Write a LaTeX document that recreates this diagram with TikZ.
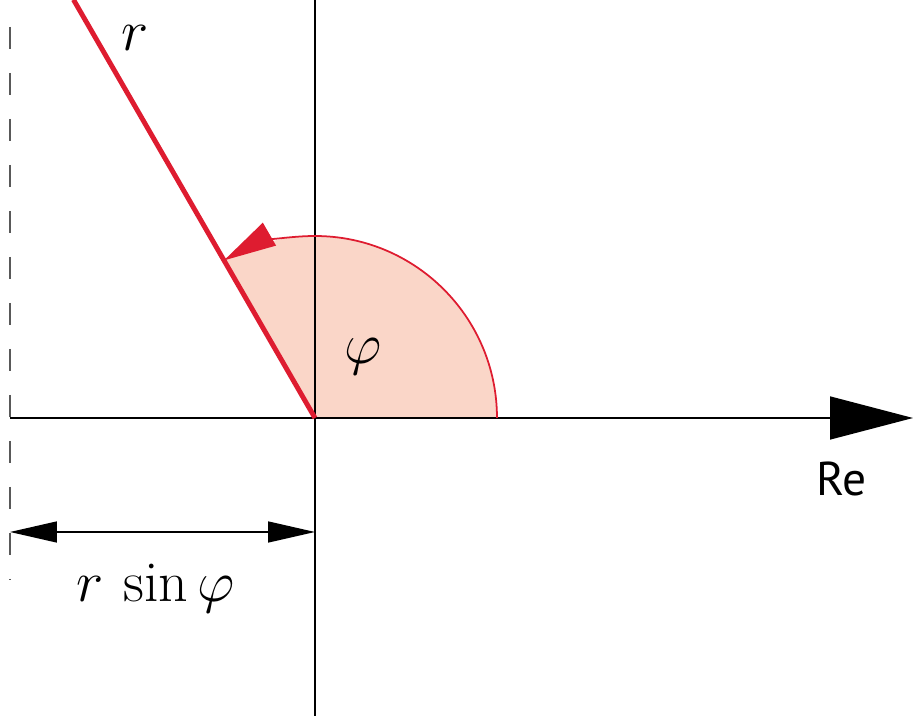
\RequirePackage{fix-cm}
\documentclass[tikz,border=0pt]{standalone}
\usepackage{fontspec}
\newfontfamily\resans{PT Sans}
\usetikzlibrary{arrows.meta}

\definecolor{vecred}{RGB}{222,28,48}
\definecolor{sectorfill}{RGB}{250,214,200}

\tikzset{
  axisline/.style={line width=0.9pt,black},
  bigtip/.style={-{Triangle[length=1.66cm,width=0.86cm]}},
  dimtip/.style={{Triangle[length=0.94cm,width=0.42cm]}-{Triangle[length=0.94cm,width=0.42cm]}},
  mathlabel/.style={outer sep=0pt,inner sep=0pt,font=\fontsize{33}{38}\selectfont}
}

\begin{document}
\begin{tikzpicture}[x=0.02cm,y=0.02cm]

\useasboundingbox (-315,-298) rectangle (598,418);

\coordinate (O) at (0,0);
\coordinate (reL) at (-305,0);
\coordinate (reR) at (598,0);
\coordinate (imT) at (0,418);
\coordinate (imB) at (0,-298);
\coordinate (rEnd) at (120:483);
\coordinate (dashT) at (-305,391);
\coordinate (dashB) at (-305,-162);
\coordinate (dimL) at (-305,-114);
\coordinate (dimR) at (0,-114);

% sector
\fill [sectorfill] (O) -- (182,0) arc (0:120:182) -- cycle;

% axes
\draw [axisline,bigtip] (reL) -- (reR);
\draw [axisline] (imB) -- (imT);
\draw [line width=0.7pt,black!65,dash pattern=on 0.44cm off 0.48cm] (dashT) -- (dashB);

% vector r
\draw [line width=2.8pt,vecred] (O) -- (rEnd);
\draw [line width=1pt,vecred,-{Triangle[length=1.05cm,width=0.52cm]}] (182,0) arc (0:120:182);

% r sin phi
\draw [axisline,dimtip] (dimL) -- (dimR);

\node[mathlabel] (rlab) at (-180,380) {$r$};
\node[mathlabel] (philab) at (48,61) {$\varphi$};
\node[outer sep=0pt,inner sep=0pt,font=\resans\fontsize{27}{32}\selectfont] (relab) at (527,-61) {Re};
\node[mathlabel,anchor=base] (rsinlab) at (-159,-184) {$r\,\sin\varphi$};

\end{tikzpicture}
\end{document}
